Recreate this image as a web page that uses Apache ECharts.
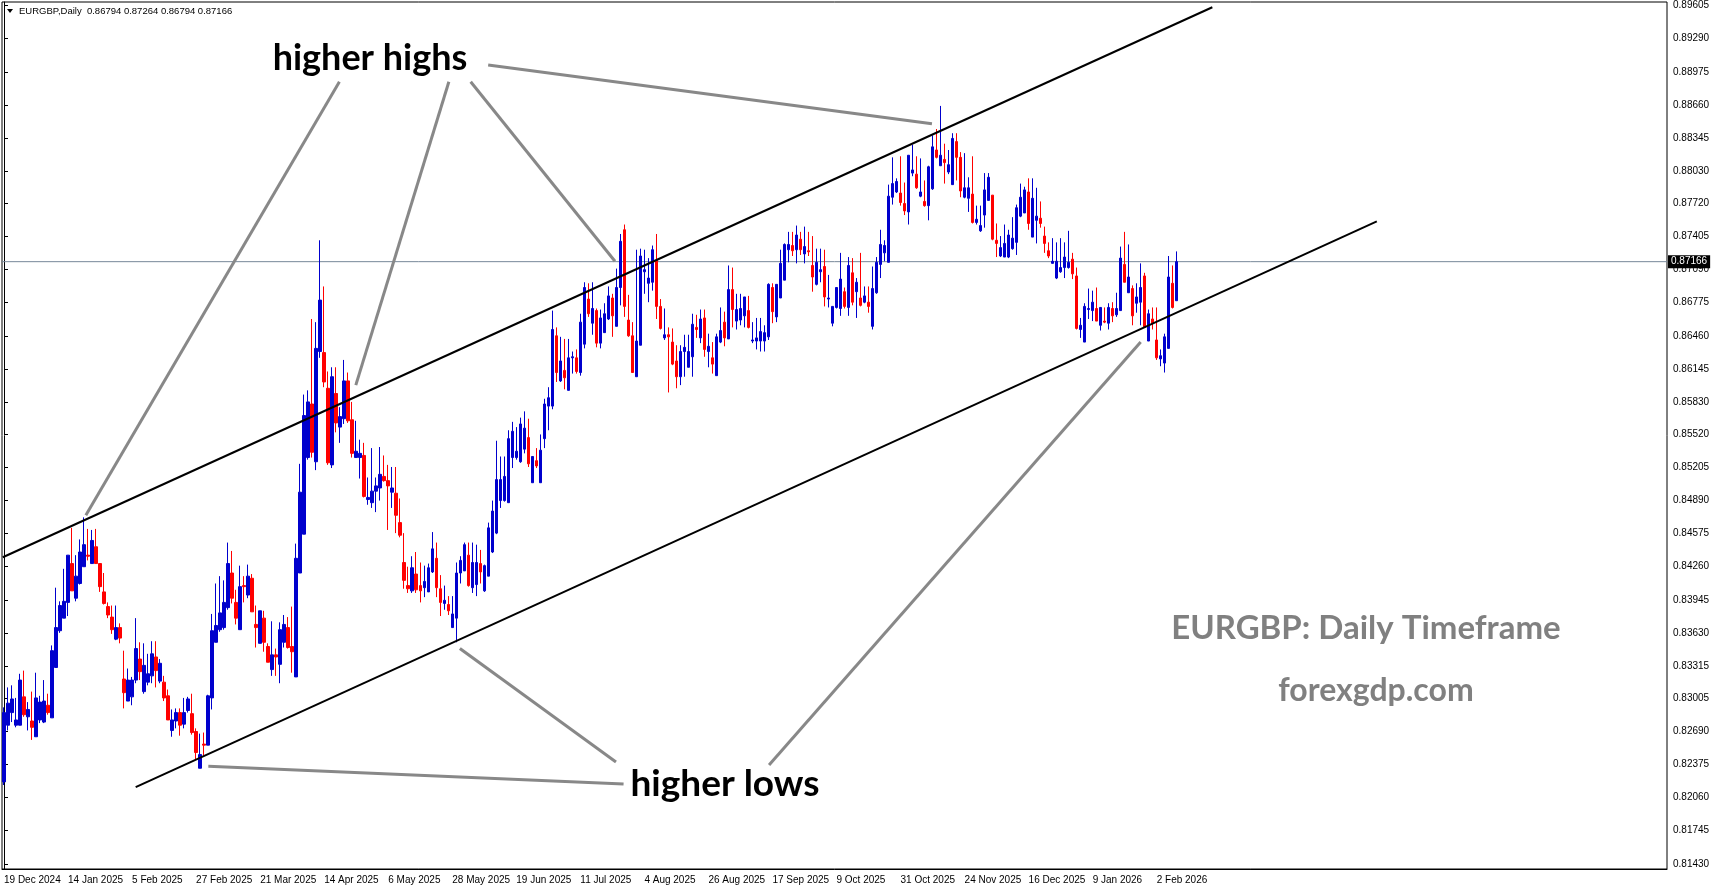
<!DOCTYPE html>
<html>
<head>
<meta charset="utf-8">
<title>EURGBP Daily</title>
<script src="https://cdn.jsdelivr.net/npm/echarts@6/dist/echarts.min.js"></script>
<style>
html, body { margin: 0; padding: 0; background: #fff; }
#chart { width: 1713px; height: 888px; }
</style>
</head>
<body>
<div id="chart"></div>
<script>
// price scale labels, as printed by the terminal
var yTicks = [0.81430, 0.81745, 0.82060, 0.82375, 0.82690, 0.83005, 0.83315, 0.83630, 0.83945,
	0.84260, 0.84575, 0.84890, 0.85205, 0.85520, 0.85830, 0.86145, 0.86460, 0.86775, 0.87090,
	0.87405, 0.87720, 0.88030, 0.88345, 0.88660, 0.88975, 0.89290, 0.89605];

// one date label every 16 bars
var tickLabels = ['19 Dec 2024', '14 Jan 2025', '5 Feb 2025', '27 Feb 2025', '21 Mar 2025', '14 Apr 2025',
	'6 May 2025', '28 May 2025', '19 Jun 2025', '11 Jul 2025', '4 Aug 2025', '26 Aug 2025',
	'17 Sep 2025', '9 Oct 2025', '31 Oct 2025', '24 Nov 2025', '16 Dec 2025', '9 Jan 2026', '2 Feb 2026'];
var barsPerLabel = 16;

// daily candles [open, close, low, high]
var candles = [
	[0.8221,0.8287,0.8218,0.8292],[0.8275,0.8296,0.8270,0.8311],[0.8287,0.8300,0.8278,0.8313],[0.8275,0.8280,0.8273,0.8301],
	[0.8275,0.8318,0.8275,0.8324],[0.8302,0.8285,0.8283,0.8327],[0.8283,0.8290,0.8270,0.8297],[0.8279,0.8273,0.8261,0.8307],
	[0.8264,0.8301,0.8264,0.8325],[0.8280,0.8297,0.8277,0.8303],[0.8278,0.8298,0.8277,0.8318],[0.8294,0.8287,0.8285,0.8305],
	[0.8282,0.8346,0.8282,0.8351],[0.8330,0.8368,0.8330,0.8406],[0.8365,0.8389,0.8363,0.8393],[0.8377,0.8393,0.8377,0.8424],
	[0.8392,0.8437,0.8379,0.8437],[0.8429,0.8403,0.8403,0.8463],[0.8396,0.8417,0.8393,0.8437],[0.8410,0.8440,0.8409,0.8452],
	[0.8426,0.8447,0.8426,0.8473],[0.8437,0.8436,0.8432,0.8462],[0.8429,0.8451,0.8429,0.8461],[0.8445,0.8429,0.8429,0.8462],
	[0.8429,0.8407,0.8402,0.8429],[0.8402,0.8391,0.8390,0.8420],[0.8388,0.8380,0.8377,0.8392],[0.8378,0.8366,0.8362,0.8389],
	[0.8357,0.8368,0.8356,0.8389],[0.8368,0.8358,0.8353,0.8372],[0.8319,0.8306,0.8291,0.8346],[0.8298,0.8318,0.8298,0.8329],
	[0.8302,0.8318,0.8294,0.8321],[0.8318,0.8348,0.8315,0.8377],[0.8338,0.8326,0.8318,0.8354],[0.8307,0.8332,0.8305,0.8353],
	[0.8316,0.8324,0.8313,0.8343],[0.8322,0.8343,0.8315,0.8355],[0.8340,0.8327,0.8311,0.8355],[0.8317,0.8334,0.8315,0.8338],
	[0.8316,0.8301,0.8298,0.8322],[0.8303,0.8280,0.8280,0.8309],[0.8270,0.8280,0.8264,0.8290],[0.8279,0.8287,0.8272,0.8291],
	[0.8287,0.8275,0.8265,0.8291],[0.8276,0.8287,0.8272,0.8301],[0.8289,0.8300,0.8287,0.8302],[0.8286,0.8268,0.8266,0.8305],
	[0.8269,0.8249,0.8242,0.8272],[0.8234,0.8247,0.8234,0.8267],[0.8257,0.8256,0.8246,0.8268],[0.8256,0.8303,0.8256,0.8304],
	[0.8301,0.8365,0.8290,0.8381],[0.8354,0.8370,0.8354,0.8410],[0.8366,0.8382,0.8364,0.8417],[0.8368,0.8392,0.8366,0.8413],
	[0.8387,0.8429,0.8385,0.8449],[0.8420,0.8396,0.8391,0.8441],[0.8392,0.8377,0.8371,0.8404],[0.8366,0.8407,0.8366,0.8427],
	[0.8408,0.8407,0.8392,0.8417],[0.8399,0.8417,0.8396,0.8428],[0.8415,0.8383,0.8383,0.8419],[0.8371,0.8368,0.8349,0.8389],
	[0.8353,0.8384,0.8353,0.8384],[0.8377,0.8354,0.8345,0.8384],[0.8350,0.8335,0.8335,0.8353],[0.8328,0.8342,0.8322,0.8374],
	[0.8342,0.8340,0.8322,0.8348],[0.8333,0.8366,0.8315,0.8373],[0.8354,0.8371,0.8349,0.8380],[0.8368,0.8349,0.8348,0.8378],
	[0.8350,0.8345,0.8325,0.8388],[0.8321,0.8434,0.8321,0.8448],[0.8420,0.8497,0.8420,0.8524],[0.8457,0.8570,0.8457,0.8590],
	[0.8530,0.8583,0.8528,0.8594],[0.8581,0.8535,0.8530,0.8662],[0.8526,0.8634,0.8518,0.8659],[0.8631,0.8680,0.8625,0.8737],
	[0.8630,0.8602,0.8597,0.8693],[0.8596,0.8525,0.8523,0.8612],[0.8523,0.8607,0.8520,0.8616],[0.8591,0.8563,0.8554,0.8616],
	[0.8559,0.8569,0.8544,0.8578],[0.8567,0.8603,0.8562,0.8623],[0.8603,0.8565,0.8563,0.8611],[0.8566,0.8534,0.8530,0.8583],
	[0.8530,0.8536,0.8530,0.8565],[0.8530,0.8534,0.8510,0.8547],[0.8532,0.8493,0.8492,0.8544],[0.8490,0.8492,0.8485,0.8511],
	[0.8487,0.8498,0.8482,0.8539],[0.8498,0.8503,0.8478,0.8511],[0.8501,0.8514,0.8489,0.8540],[0.8512,0.8508,0.8507,0.8532],
	[0.8508,0.8503,0.8461,0.8523],[0.8497,0.8501,0.8482,0.8521],[0.8496,0.8475,0.8458,0.8521],[0.8468,0.8456,0.8454,0.8491],
	[0.8430,0.8413,0.8405,0.8458],[0.8408,0.8405,0.8401,0.8426],[0.8403,0.8425,0.8401,0.8436],[0.8419,0.8404,0.8401,0.8440],
	[0.8408,0.8403,0.8392,0.8430],[0.8406,0.8412,0.8397,0.8427],[0.8402,0.8425,0.8402,0.8429],[0.8421,0.8443,0.8420,0.8459],
	[0.8434,0.8406,0.8397,0.8449],[0.8405,0.8392,0.8379,0.8418],[0.8391,0.8394,0.8385,0.8408],[0.8390,0.8384,0.8380,0.8398],
	[0.8368,0.8381,0.8368,0.8398],[0.8377,0.8420,0.8354,0.8430],[0.8420,0.8432,0.8410,0.8436],[0.8422,0.8447,0.8422,0.8449],
	[0.8437,0.8408,0.8407,0.8449],[0.8406,0.8430,0.8401,0.8449],[0.8409,0.8430,0.8398,0.8447],[0.8429,0.8421,0.8410,0.8442],
	[0.8403,0.8427,0.8402,0.8428],[0.8417,0.8463,0.8417,0.8468],[0.8440,0.8479,0.8439,0.8489],[0.8458,0.8509,0.8457,0.8546],
	[0.8489,0.8509,0.8482,0.8531],[0.8489,0.8512,0.8488,0.8531],[0.8487,0.8548,0.8487,0.8556],[0.8530,0.8555,0.8520,0.8564],
	[0.8530,0.8536,0.8528,0.8559],[0.8526,0.8562,0.8525,0.8568],[0.8538,0.8558,0.8534,0.8574],[0.8549,0.8524,0.8521,0.8567],
	[0.8506,0.8531,0.8506,0.8531],[0.8527,0.8522,0.8520,0.8539],[0.8506,0.8537,0.8506,0.8552],[0.8548,0.8581,0.8539,0.8586],
	[0.8579,0.8587,0.8556,0.8597],[0.8579,0.8652,0.8576,0.8670],[0.8646,0.8611,0.8602,0.8654],[0.8603,0.8622,0.8602,0.8645],
	[0.8613,0.8606,0.8595,0.8643],[0.8594,0.8625,0.8594,0.8643],[0.8625,0.8626,0.8610,0.8631],[0.8625,0.8612,0.8610,0.8633],
	[0.8611,0.8659,0.8608,0.8667],[0.8638,0.8692,0.8634,0.8697],[0.8681,0.8667,0.8664,0.8696],[0.8658,0.8672,0.8647,0.8697],
	[0.8670,0.8639,0.8635,0.8672],[0.8639,0.8663,0.8634,0.8671],[0.8649,0.8667,0.8649,0.8677],[0.8662,0.8684,0.8661,0.8693],
	[0.8682,0.8665,0.8645,0.8686],[0.8655,0.8692,0.8655,0.8710],[0.8692,0.8736,0.8675,0.8743],[0.8747,0.8674,0.8664,0.8752],
	[0.8661,0.8646,0.8645,0.8685],[0.8646,0.8611,0.8611,0.8659],[0.8607,0.8641,0.8607,0.8728],[0.8637,0.8722,0.8637,0.8729],
	[0.8707,0.8709,0.8686,0.8728],[0.8696,0.8701,0.8678,0.8720],[0.8697,0.8728,0.8689,0.8732],[0.8718,0.8674,0.8662,0.8743],
	[0.8674,0.8653,0.8652,0.8681],[0.8644,0.8647,0.8642,0.8672],[0.8647,0.8645,0.8592,0.8654],[0.8640,0.8619,0.8618,0.8653],
	[0.8622,0.8607,0.8596,0.8637],[0.8607,0.8631,0.8599,0.8637],[0.8631,0.8635,0.8607,0.8647],[0.8616,0.8631,0.8616,0.8647],
	[0.8626,0.8657,0.8607,0.8667],[0.8654,0.8652,0.8644,0.8666],[0.8644,0.8662,0.8639,0.8671],[0.8663,0.8633,0.8626,0.8671],
	[0.8631,0.8636,0.8616,0.8648],[0.8625,0.8619,0.8610,0.8640],[0.8608,0.8645,0.8608,0.8648],[0.8640,0.8651,0.8639,0.8673],
	[0.8659,0.8644,0.8636,0.8669],[0.8643,0.8690,0.8643,0.8713],[0.8690,0.8671,0.8654,0.8711],[0.8660,0.8671,0.8652,0.8686],
	[0.8661,0.8672,0.8656,0.8686],[0.8665,0.8683,0.8654,0.8683],[0.8670,0.8654,0.8653,0.8684],[0.8641,0.8642,0.8639,0.8659],
	[0.8641,0.8644,0.8633,0.8663],[0.8641,0.8650,0.8631,0.8663],[0.8641,0.8649,0.8631,0.8656],[0.8645,0.8695,0.8642,0.8696],
	[0.8692,0.8669,0.8658,0.8696],[0.8664,0.8695,0.8659,0.8695],[0.8682,0.8715,0.8682,0.8728],[0.8699,0.8733,0.8699,0.8734],
	[0.8728,0.8733,0.8716,0.8745],[0.8732,0.8727,0.8722,0.8745],[0.8728,0.8742,0.8715,0.8751],[0.8738,0.8728,0.8723,0.8745],
	[0.8724,0.8731,0.8715,0.8750],[0.8727,0.8726,0.8722,0.8745],[0.8713,0.8702,0.8688,0.8741],[0.8695,0.8716,0.8694,0.8729],
	[0.8707,0.8709,0.8697,0.8729],[0.8712,0.8683,0.8674,0.8728],[0.8681,0.8682,0.8673,0.8704],[0.8658,0.8674,0.8655,0.8674],
	[0.8673,0.8692,0.8672,0.8692],[0.8672,0.8700,0.8665,0.8725],[0.8688,0.8674,0.8672,0.8692],[0.8673,0.8713,0.8665,0.8721],
	[0.8706,0.8678,0.8675,0.8720],[0.8688,0.8697,0.8663,0.8701],[0.8682,0.8675,0.8674,0.8725],[0.8678,0.8684,0.8677,0.8693],
	[0.8678,0.8674,0.8668,0.8693],[0.8655,0.8691,0.8652,0.8712],[0.8687,0.8716,0.8686,0.8721],[0.8714,0.8733,0.8701,0.8747],
	[0.8725,0.8732,0.8717,0.8737],[0.8716,0.8779,0.8716,0.8790],[0.8778,0.8791,0.8771,0.8816],[0.8783,0.8793,0.8782,0.8796],
	[0.8782,0.8773,0.8770,0.8817],[0.8772,0.8765,0.8761,0.8792],[0.8764,0.8818,0.8752,0.8818],[0.8801,0.8804,0.8798,0.8828],
	[0.8800,0.8787,0.8786,0.8817],[0.8779,0.8783,0.8778,0.8815],[0.8774,0.8770,0.8769,0.8794],[0.8770,0.8807,0.8756,0.8808],
	[0.8786,0.8826,0.8785,0.8837],[0.8823,0.8816,0.8815,0.8843],[0.8808,0.8818,0.8808,0.8865],[0.8814,0.8811,0.8791,0.8829],
	[0.8802,0.8809,0.8800,0.8823],[0.8790,0.8834,0.8790,0.8839],[0.8831,0.8816,0.8794,0.8839],[0.8816,0.8784,0.8778,0.8821],
	[0.8778,0.8787,0.8777,0.8820],[0.8777,0.8787,0.8764,0.8797],[0.8781,0.8754,0.8753,0.8817],[0.8754,0.8757,0.8752,0.8770],
	[0.8746,0.8751,0.8745,0.8770],[0.8761,0.8785,0.8749,0.8801],[0.8775,0.8797,0.8775,0.8801],[0.8780,0.8738,0.8737,0.8780],
	[0.8737,0.8734,0.8721,0.8753],[0.8722,0.8730,0.8721,0.8741],[0.8721,0.8734,0.8721,0.8752],[0.8721,0.8742,0.8720,0.8747],
	[0.8729,0.8739,0.8728,0.8759],[0.8735,0.8768,0.8723,0.8771],[0.8760,0.8778,0.8759,0.8791],[0.8763,0.8785,0.8763,0.8788],
	[0.8783,0.8753,0.8747,0.8796],[0.8740,0.8777,0.8740,0.8796],[0.8756,0.8760,0.8734,0.8787],[0.8758,0.8753,0.8749,0.8774],
	[0.8741,0.8734,0.8725,0.8750],[0.8727,0.8722,0.8720,0.8735],[0.8715,0.8717,0.8715,0.8739],[0.8701,0.8717,0.8700,0.8735],
	[0.8707,0.8711,0.8706,0.8739],[0.8711,0.8721,0.8701,0.8735],[0.8711,0.8716,0.8710,0.8746],[0.8719,0.8705,0.8700,0.8725],
	[0.8703,0.8653,0.8652,0.8711],[0.8652,0.8656,0.8644,0.8663],[0.8640,0.8674,0.8640,0.8677],[0.8671,0.8672,0.8662,0.8691],
	[0.8670,0.8678,0.8660,0.8689],[0.8672,0.8660,0.8660,0.8692],[0.8656,0.8673,0.8651,0.8673],[0.8660,0.8659,0.8658,0.8673],
	[0.8658,0.8673,0.8652,0.8677],[0.8672,0.8665,0.8659,0.8678],[0.8666,0.8672,0.8664,0.8687],[0.8670,0.8720,0.8670,0.8731],
	[0.8714,0.8697,0.8697,0.8745],[0.8687,0.8702,0.8687,0.8733],[0.8691,0.8665,0.8656,0.8694],[0.8677,0.8683,0.8668,0.8696],
	[0.8678,0.8692,0.8656,0.8715],[0.8703,0.8654,0.8654,0.8706],[0.8641,0.8667,0.8641,0.8671],[0.8662,0.8658,0.8652,0.8673],
	[0.8642,0.8625,0.8623,0.8673],[0.8624,0.8627,0.8617,0.8633],[0.8620,0.8645,0.8611,0.8648],[0.8634,0.8702,0.8634,0.8722],
	[0.8696,0.8673,0.8672,0.8713],[0.86794,0.87166,0.86794,0.87264]
];
var lastPrice = 0.87166;
var headerText = 'EURGBP,Daily  0.86794 0.87264 0.86794 0.87166';

// bar slots on the time axis, incl. the empty shift space on the right
var totalSlots = 416;

// channel lines, [bar index, price]
var upperChannel = [[-0.3, 0.8435], [301.9, 0.8959]];
var lowerChannel = [[32.9, 0.8216], [343, 0.8755]];

// grey pointer strokes from the captions to the swing points
var pointers = [
	[[83.8, 0.8888], [20.45, 0.8475]],
	[[111.15, 0.8888], [87.9, 0.8599]],
	[[116.6, 0.8888], [152.65, 0.8717]],
	[[120.97, 0.8904], [231.85, 0.8848]],
	[[154.8, 0.8219], [51.05, 0.8236]],
	[[152.9, 0.8240], [113.9, 0.8348]],
	[[191.15, 0.8237], [284, 0.8640]]
];

var slots = [];
for (var i = 0; i < totalSlots; i++) {
	slots.push(String(i));
}

function showDateTick(index) {
	return index % barsPerLabel === 0 && index / barsPerLabel < tickLabels.length;
}

var axisFont = 'Liberation Sans';
var series = [{
	// bid line across the whole chart, price box on the scale
	type: 'line',
	xAxisIndex: 1,
	data: [[-0.5, lastPrice], [totalSlots - 0.5, lastPrice]],
	symbol: 'none',
	lineStyle: { color: '#778899', width: 1 },
	endLabel: {
		show: true,
		distance: 1,
		formatter: lastPrice.toFixed(5),
		color: '#fff',
		backgroundColor: '#000',
		padding: [2, 3, 1, 3],
		fontFamily: axisFont,
		fontSize: 10
	},
	silent: true,
	z: 1
}, {
	type: 'candlestick',
	xAxisIndex: 0,
	yAxisIndex: 0,
	data: candles,
	barWidth: 3,
	itemStyle: {
		color: '#0000cd',
		color0: '#ff0000',
		borderColor: '#0000cd',
		borderColor0: '#ff0000',
		borderWidth: 1
	},
	z: 2
}, {
	type: 'line',
	xAxisIndex: 1,
	data: upperChannel,
	symbol: 'none',
	lineStyle: { color: '#000', width: 2 },
	silent: true,
	z: 4
}, {
	type: 'line',
	xAxisIndex: 1,
	data: lowerChannel,
	symbol: 'none',
	lineStyle: { color: '#000', width: 2 },
	silent: true,
	z: 4
}];

pointers.forEach(function (seg) {
	series.push({
		type: 'line',
		xAxisIndex: 1,
		data: seg,
		symbol: 'none',
		lineStyle: { color: '#888', width: 3 },
		silent: true,
		z: 5
	});
});

var option = {
	animation: false,
	backgroundColor: '#fff',
	grid: {
		left: 2,
		right: 46,
		top: 2,
		bottom: 19,
		show: true,
		borderColor: '#000',
		borderWidth: 1,
		backgroundColor: '#fff'
	},
	xAxis: [{
		type: 'category',
		data: slots,
		boundaryGap: true,
		axisLine: { lineStyle: { color: '#000', width: 1 } },
		axisTick: {
			alignWithLabel: true,
			length: 4,
			interval: showDateTick,
			lineStyle: { color: '#000' }
		},
		axisLabel: {
			interval: showDateTick,
			formatter: function (value, index) {
				return tickLabels[index / barsPerLabel] || '';
			},
			align: 'left',
			color: '#000',
			fontFamily: axisFont,
			fontSize: 10,
			margin: 6
		},
		splitLine: { show: false }
	}, {
		type: 'value',
		min: -0.5,
		max: totalSlots - 0.5,
		show: false
	}],
	yAxis: {
		type: 'value',
		position: 'right',
		min: 0.8138,
		max: 0.8964,
		axisLine: { show: true, lineStyle: { color: '#000', width: 1 } },
		axisTick: {
			show: true,
			length: 4,
			customValues: yTicks,
			lineStyle: { color: '#000' }
		},
		axisLabel: {
			customValues: yTicks,
			formatter: function (v) { return v.toFixed(5); },
			color: '#000',
			fontFamily: axisFont,
			fontSize: 10,
			margin: 6
		},
		splitLine: { show: false }
	},
	graphic: [{
		type: 'polygon',
		shape: { points: [[7, 9], [13, 9], [10, 13]] },
		style: { fill: '#000' },
		z: 10
	}, {
		type: 'text',
		style: {
			x: 19, y: 11,
			text: headerText,
			fill: '#000',
			font: '9.5px "Liberation Sans"',
			textVerticalAlign: 'middle'
		},
		z: 10
	}, {
		type: 'text',
		style: {
			x: 370, y: 58,
			text: 'higher highs',
			fill: '#000',
			font: 'bold 36px Lato',
			textAlign: 'center',
			textVerticalAlign: 'middle'
		},
		z: 10
	}, {
		type: 'text',
		style: {
			x: 725, y: 784,
			text: 'higher lows',
			fill: '#000',
			font: 'bold 37px Lato',
			textAlign: 'center',
			textVerticalAlign: 'middle'
		},
		z: 10
	}, {
		type: 'text',
		style: {
			x: 1366, y: 628,
			text: 'EURGBP: Daily Timeframe',
			fill: '#808080',
			font: 'bold 33px Lato',
			textAlign: 'center',
			textVerticalAlign: 'middle'
		},
		z: 10
	}, {
		type: 'text',
		style: {
			x: 1376, y: 691,
			text: 'forexgdp.com',
			fill: '#808080',
			font: 'bold 32px Lato',
			textAlign: 'center',
			textVerticalAlign: 'middle'
		},
		z: 10
	}],
	series: series
};

var myChart = echarts.init(document.getElementById('chart'));
myChart.setOption(option, true);
</script>
</body>
</html>
